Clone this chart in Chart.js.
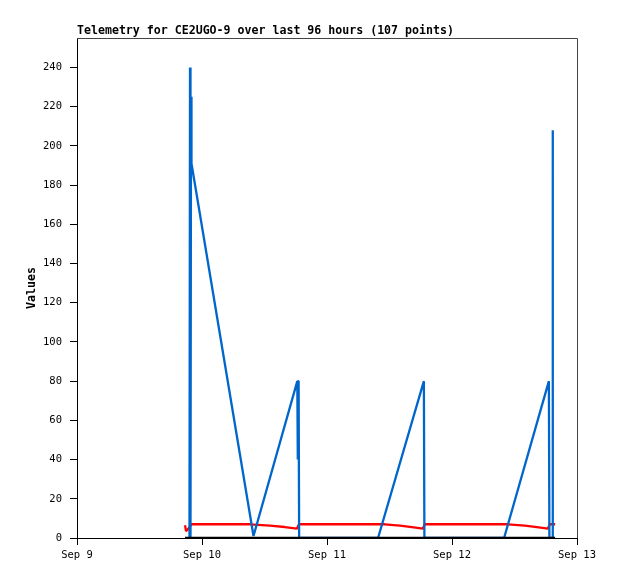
<!DOCTYPE html>
<html>
<head>
<meta charset="utf-8">
<script src="https://cdn.jsdelivr.net/npm/chart.js@4.4.1/dist/chart.umd.min.js"></script>
<style>
  html, body { margin: 0; padding: 0; background: #fff; }
  #wrap { width: 618px; height: 579px; }
</style>
</head>
<body>
<div id="wrap"><canvas id="telemetria"></canvas></div>
<script>
// Rótulos do eixo X (um por dia, a cada 24 horas)
const tickLabels = ['Sep 9', 'Sep 10', 'Sep 11', 'Sep 12', 'Sep 13'];

// Horas desde Sep 9 00:00 e valores
const blueHours = [21.60, 21.70, 21.79, 21.89, 21.98, 33.89, 42.30, 42.36, 42.43, 42.55, 42.65, 57.80, 66.60, 66.70, 82.00, 90.60, 90.70, 91.30, 91.35];
const blueValues = [0, 240, 0, 225, 191, 1, 80, 40, 80, 80, 0, 0, 80, 0, 0, 80, 0, 0, 208];

const redHours = [20.74, 20.93, 21.31, 21.98, 33.20, 37.06, 39.90, 42.24, 42.62, 59.10, 62.00, 64.30, 66.40, 66.80, 82.75, 86.00, 88.30, 90.40, 90.80, 91.80];
const redValues = [6.5, 3.5, 4.5, 7, 7, 6.3, 5.6, 4.8, 7, 7, 6.3, 5.6, 4.8, 7, 7, 6.3, 5.6, 4.8, 7, 7];

const blackHours = [20.74, 91.80];
const blackValues = [0, 0];

const toPoints = (xs, ys) => xs.map((x, i) => ({ x: x, y: ys[i] }));

const FONT = '"DejaVu Sans Mono", "Liberation Mono", monospace';

// Moldura cinza, título e rótulo do eixo Y
const extras = {
    id: 'extras',
    beforeDatasetsDraw(chart) {
        const { ctx, chartArea } = chart;
        ctx.save();
        ctx.strokeStyle = '#444';
        ctx.lineWidth = 1;
        ctx.beginPath();
        ctx.moveTo(chartArea.left, chartArea.top + 0.5);
        ctx.lineTo(chartArea.right + 0.5, chartArea.top + 0.5);
        ctx.lineTo(chartArea.right + 0.5, chartArea.bottom);
        ctx.stroke();
        ctx.restore();
    },
    afterDraw(chart) {
        const { ctx, chartArea } = chart;
        ctx.save();
        ctx.fillStyle = '#000';
        ctx.font = 'bold 11.6px ' + FONT;
        ctx.textAlign = 'left';
        ctx.textBaseline = 'alphabetic';
        ctx.fillText('Telemetry for CE2UGO-9 over last 96 hours (107 points)', chartArea.left, 34);
        ctx.translate(35, (chartArea.top + chartArea.bottom) / 2);
        ctx.rotate(-Math.PI / 2);
        ctx.textAlign = 'center';
        ctx.fillText('Values', 0, 0);
        ctx.restore();
    }
};

const ctx = document.getElementById('telemetria').getContext('2d');

const lineStyle = {
    showLine: true,
    borderWidth: 2.3,
    borderJoinStyle: 'bevel',
    pointRadius: 0,
};

const chart = new Chart(ctx, {
    type: 'scatter',
    data: {
        datasets: [
            { ...lineStyle, data: toPoints(blackHours, blackValues), borderColor: '#000000' },
            { ...lineStyle, data: toPoints(blueHours, blueValues), borderColor: '#0066CC' },
            { ...lineStyle, data: toPoints(redHours, redValues), borderColor: '#FF0000' },
        ],
    },
    options: {
        responsive: true,
        maintainAspectRatio: false,
        animation: false,
        layout: { padding: { left: 0, top: 38, right: 41, bottom: 0 } },
        plugins: {
            legend: { display: false },
            tooltip: { enabled: false },
        },
        scales: {
            x: {
                type: 'linear',
                min: 0,
                max: 96,
                afterFit: (scale) => { scale.height = 41; },
                border: { color: '#000', width: 1 },
                grid: { drawOnChartArea: false, drawTicks: true, tickLength: 7, color: '#000' },
                ticks: {
                    stepSize: 24,
                    color: '#000',
                    padding: 4,
                    maxRotation: 0,
                    font: { family: FONT, size: 10.5 },
                    callback: (v) => tickLabels[v / 24],
                },
            },
            y: {
                min: 0,
                max: 255,
                afterFit: (scale) => { scale.width = 77; },
                border: { color: '#000', width: 1 },
                grid: { drawOnChartArea: false, drawTicks: true, tickLength: 7, color: '#000' },
                ticks: {
                    stepSize: 20,
                    includeBounds: false,
                    color: '#000',
                    padding: 8,
                    font: { family: FONT, size: 10.5 },
                },
            },
        },
    },
    plugins: [extras],
});
</script>
</body>
</html>
